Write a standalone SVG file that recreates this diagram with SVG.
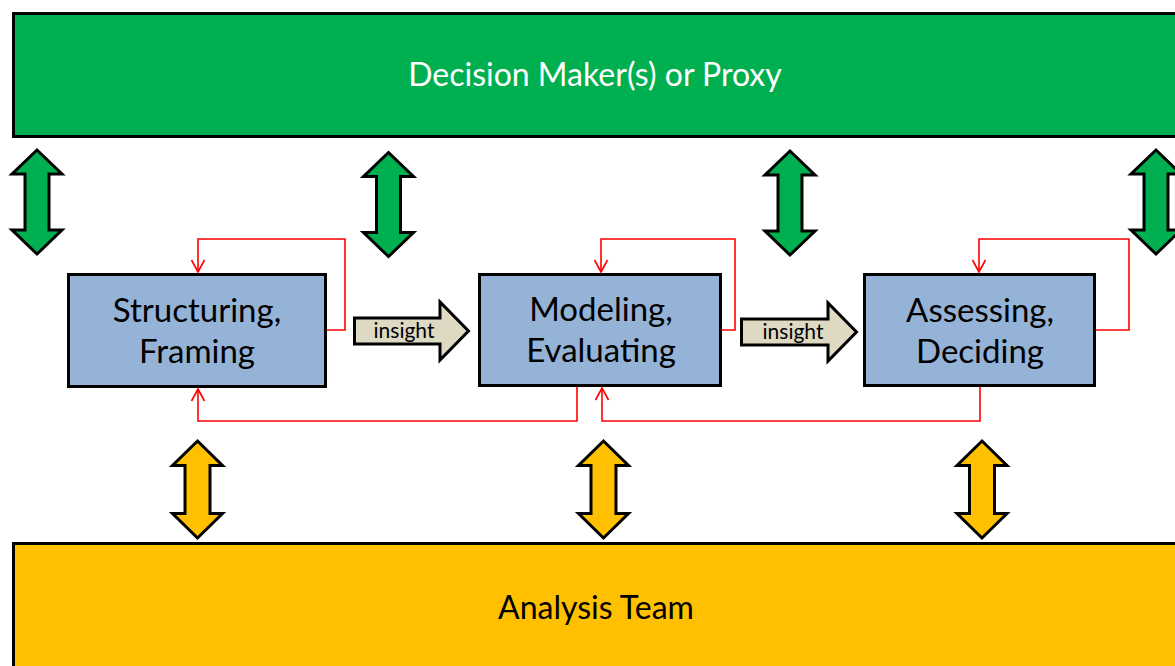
<svg xmlns="http://www.w3.org/2000/svg" width="1175" height="666" viewBox="0 0 1175 666">
<style>
.bar{stroke:#000;stroke-width:3}
.box{fill:#95B3D7;stroke:#000;stroke-width:3}
.arr{stroke:#000;stroke-width:3;stroke-linejoin:miter}
.ins{fill:#DDD9C3;stroke:#000;stroke-width:3}
.t{font-family:Lato,"Liberation Sans",sans-serif;text-anchor:middle}
.big{font-size:32px}
.bt{font-size:33px;fill:#000}
.it{font-size:21px;fill:#000}
.red{fill:none;stroke:#FF0000;stroke-width:1.6}
</style>
<defs>
<path id="ga" d="M0,-52 L25,-28 L12,-28 L12,28 L25,28 L0,52 L-25,28 L-12,28 L-12,-28 L-25,-28 Z"/>
<path id="ya" d="M0,-48.5 L25,-24 L12.5,-24 L12.5,24 L25,24 L0,48.5 L-25,24 L-12.5,24 L-12.5,-24 L-25,-24 Z"/>
<marker id="v" markerUnits="userSpaceOnUse" markerWidth="16" markerHeight="16" viewBox="-14 -8 16 16" refX="0" refY="0" orient="auto" overflow="visible">
<path d="M-12,-6.5 L0,0 L-12,6.5" fill="none" stroke="#FF0000" stroke-width="1.6"/>
</marker>
</defs>
<g id="decision-maker">
<rect class="bar" x="13.5" y="13.5" width="1200" height="123" fill="#00B050"/>
<text class="t big" x="595" y="86" fill="#fff">Decision Maker(s) or Proxy</text>
</g>
<g id="analysis-team">
<rect class="bar" x="13.5" y="543.5" width="1200" height="200" fill="#FFC000"/>
<text class="t big" x="596" y="619" fill="#000">Analysis Team</text>
</g>
<g id="structuring">
<rect class="box" x="68.5" y="274.5" width="257" height="112"/>
<text class="t bt" x="197" y="322">Structuring,</text>
<text class="t bt" x="197" y="363">Framing</text>
</g>
<g id="modeling">
<rect class="box" x="479.5" y="274.5" width="241" height="111"/>
<text class="t bt" x="601" y="321">Modeling,</text>
<text class="t bt" x="601" y="362">Evaluating</text>
</g>
<g id="assessing">
<rect class="box" x="864.5" y="274.5" width="230" height="111"/>
<text class="t bt" x="980" y="322">Assessing,</text>
<text class="t bt" x="980" y="363">Deciding</text>
</g>
<g id="connectors">
<g id="dm-arrows" fill="#00B050" class="arr">
<use href="#ga" x="37" y="202"/>
<use href="#ga" x="388.5" y="204.5"/>
<use href="#ga" x="790" y="203"/>
<use href="#ga" x="1156" y="202"/>
</g>
<g id="team-arrows" fill="#FFC000" class="arr">
<use href="#ya" x="197.5" y="489.5"/>
<use href="#ya" x="603.5" y="489.5"/>
<use href="#ya" x="982" y="489.5"/>
</g>
<g id="insight-1">
<polygon class="ins" points="354.5,318 440,318 440,302 468.5,331 440,360 440,344 354.5,344"/>
<text class="t it" x="404" y="338">insight</text>
</g>
<g id="insight-2">
<polygon class="ins" points="741.5,319 828,319 828,303 856.5,332 828,361 828,345 741.5,345"/>
<text class="t it" x="793" y="339">insight</text>
</g>
<g id="feedback">
<path class="red" d="M327,330 H345 V239 H198 V272" marker-end="url(#v)"/>
<path class="red" d="M722,330 H735 V239 H601 V272" marker-end="url(#v)"/>
<path class="red" d="M1096,330 H1129 V239 H979 V272" marker-end="url(#v)"/>
<path class="red" d="M577,387 V421 H198 V389" marker-end="url(#v)"/>
<path class="red" d="M980,387 V421 H602 V388" marker-end="url(#v)"/>
</g>
</g>
</svg>
